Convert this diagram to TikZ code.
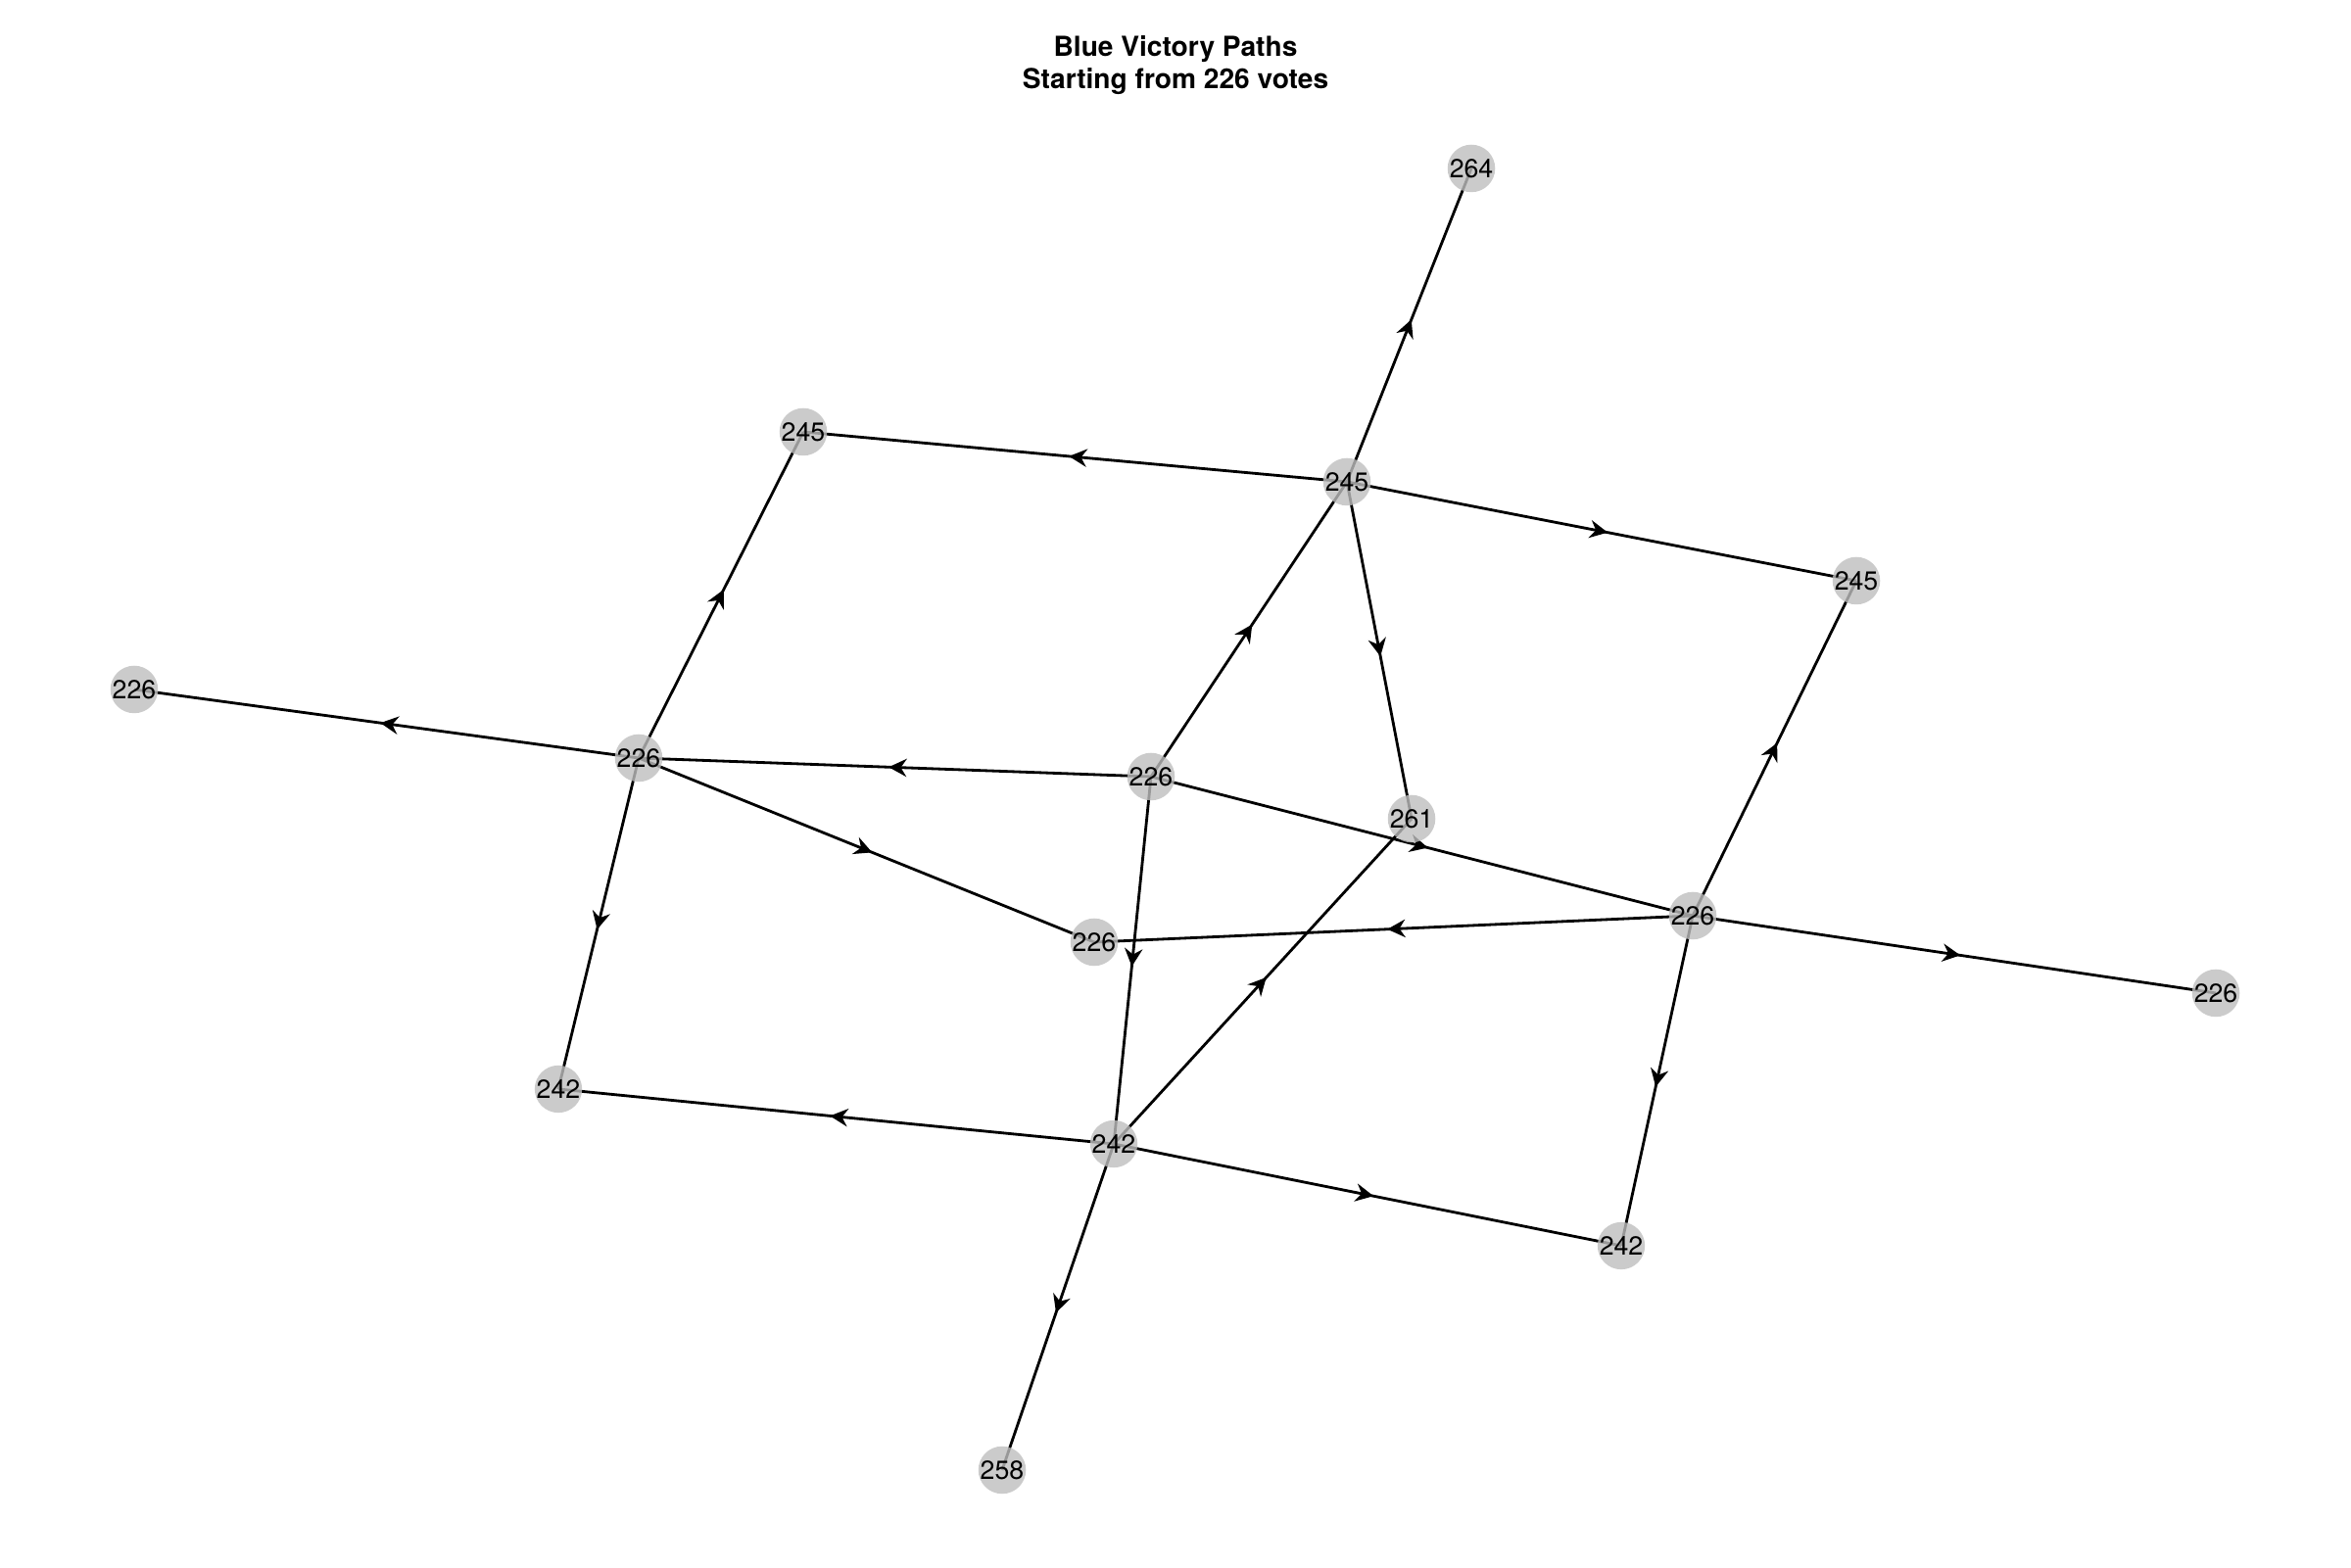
\documentclass[tikz,border=0pt]{standalone}
\usepackage{fontspec}
\setmainfont{TeX Gyre Heros}
\usetikzlibrary{arrows.meta,decorations.markings,backgrounds}
\tikzset{
  vnode/.style={circle, minimum size=0.43cm, inner sep=0pt,
    fill={rgb,255:red,190;green,190;blue,190}, fill opacity=0.8, text opacity=1,
    font=\fontsize{7.6}{8}\selectfont},
  flow/.style={draw=black, line width=0.8pt, postaction={decorate},
    decoration={markings, mark=at position 0.5 with {\arrow[xshift=1.8pt]{Stealth[length=5.2pt,width=5.2pt,inset=1.7pt]}}}},
  ttl/.style={align=center, font=\fontsize{8}{9.4}\selectfont\bfseries}
}
\begin{document}
\begin{tikzpicture}
\useasboundingbox (0,0) rectangle (24,16);
\node[ttl] (title) at (12.0,15.335) {Blue Victory Paths\\Starting from 226 votes};
\node[vnode] (n264)  at (15.02,14.28) {264};
\node[vnode] (n245a) at (8.20,11.59) {245};
\node[vnode] (n245b) at (13.75,11.08) {245};
\node[vnode] (n245c) at (18.95,10.07) {245};
\node[vnode] (n226a) at (1.37,8.96) {226};
\node[vnode] (n226b) at (6.52,8.26) {226};
\node[vnode] (n226c) at (11.75,8.07) {226};
\node[vnode] (n261)  at (14.41,7.64) {261};
\node[vnode] (n226d) at (17.28,6.65) {226};
\node[vnode] (n226e) at (11.17,6.38) {226};
\node[vnode] (n226f) at (22.62,5.86) {226};
\node[vnode] (n242a) at (5.70,4.88) {242};
\node[vnode] (n242b) at (11.37,4.32) {242};
\node[vnode] (n242c) at (16.55,3.28) {242};
\node[vnode] (n258)  at (10.23,0.99) {258};
\begin{pgfonlayer}{background}
\path[flow] (n245b.center) -- (n264.center);
\path[flow] (n245b.center) -- (n245a.center);
\path[flow] (n245b.center) -- (n245c.center);
\path[flow] (n245b.center) -- (n261.center);
\path[flow] (n226c.center) -- (n245b.center);
\path[flow] (n226b.center) -- (n245a.center);
\path[flow] (n226b.center) -- (n226a.center);
\path[flow] (n226c.center) -- (n226b.center);
\path[flow] (n226b.center) -- (n226e.center);
\path[flow] (n226b.center) -- (n242a.center);
\path[flow] (n226c.center) -- (n226d.center);
\path[flow] (n226c.center) -- (n242b.center);
\path[flow] (n242b.center) -- (n261.center);
\path[flow] (n226d.center) -- (n226e.center);
\path[flow] (n226d.center) -- (n245c.center);
\path[flow] (n226d.center) -- (n226f.center);
\path[flow] (n226d.center) -- (n242c.center);
\path[flow] (n242b.center) -- (n242a.center);
\path[flow] (n242b.center) -- (n242c.center);
\path[flow] (n242b.center) -- (n258.center);
\end{pgfonlayer}
\end{tikzpicture}
\end{document}
